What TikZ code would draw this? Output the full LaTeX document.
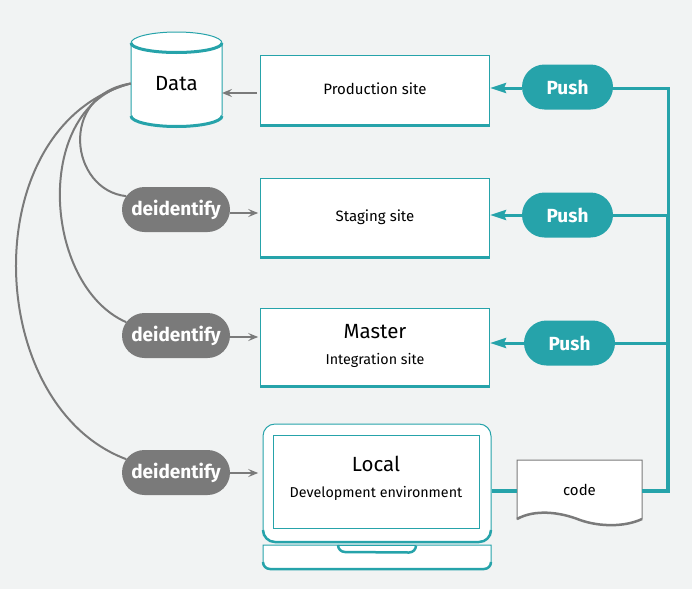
\documentclass[tikz,border=0pt]{standalone}
\usepackage{fontspec}
\setmainfont{Fira Sans}
\usetikzlibrary{arrows.meta,positioning,shapes.misc}
\definecolor{tealline}{HTML}{26A3AA}
\definecolor{greyline}{HTML}{7A7A7A}
\definecolor{pagebg}{HTML}{F1F3F3}
\newcommand{\bigtext}[1]{{\fontsize{20.5}{22}\selectfont #1}}
\newcommand{\subtext}[1]{{\fontsize{14.3}{18}\selectfont #1}}

\begin{document}
\begin{tikzpicture}[
	x=1pt,y=-1pt,
	sitebox/.style={
		draw=tealline,
		fill=white,
		line width=1pt,
		align=center,
		minimum width=229pt,
		inner sep=0pt,
		font=\fontsize{15}{18}\selectfont
	},
	pill/.style={
		rounded rectangle,
		text=white,
		minimum height=45pt,
		inner sep=0pt,
		font=\fontsize{19}{20}\selectfont\bfseries
	},
	pushpill/.style={pill,fill=tealline,minimum width=91pt},
	deidpill/.style={pill,fill=greyline,minimum width=108pt},
	bar/.style={tealline,line width=3pt},
	pushline/.style={tealline,line width=3pt},
	pusharrow/.style={tealline,line width=3pt,-{Stealth[length=16pt,width=10pt,inset=2pt]}},
	greyarrow/.style={greyline,line width=2pt,-{Stealth[length=10pt,width=8pt,inset=4pt]}},
	datacurve/.style={greyline,line width=2pt}
	]
	
	\fill[pagebg] (0,0) rectangle (692,589);
	\useasboundingbox (0,0) rectangle (692,589);
	
	% Data cylinder
	\draw[tealline,fill=white,line width=1pt] (131,43) -- (131,115) arc[start angle=180,end angle=360,x radius=45.5pt,y radius=12pt] -- (222,43) arc[start angle=0,end angle=180,x radius=45.5pt,y radius=11pt] -- cycle;
	\draw[bar] (131,116) arc[start angle=180,end angle=360,x radius=45.5pt,y radius=10.5pt];
	\draw[bar] (131,43) arc[start angle=180,end angle=360,x radius=45.5pt,y radius=9.5pt];
	\node[minimum width=91pt,inner sep=0pt] (data) at (176.5,83.5) {\bigtext{Data}};
	
	% Site boxes
	\node[sitebox,minimum height=70pt] (prod) at (375,90) {\raisebox{3pt}{Production site}};
	\node[sitebox,minimum height=78pt] (stag) at (375,217.5) {Staging site};
	\node[sitebox,minimum height=78pt] (mast) at (375,347) {\bigtext{Master}\\[8pt]\subtext{Integration site}\rule[-6pt]{0pt}{0pt}};
	\draw[bar] (prod.south west) -- (prod.south east);
	\draw[bar] (stag.south west) -- (stag.south east);
	\draw[bar] (mast.south west) -- (mast.south east);
	
	% Laptop
	\node[draw=tealline,fill=white,line width=1pt,rounded corners=12pt,minimum width=228pt,minimum height=118pt] (local) at (377,483) {};
	\draw[bar,line width=2.5pt] (263,530) arc[start angle=180,end angle=270,radius=12pt] -- (479,542) arc[start angle=270,end angle=360,radius=12pt];
	\node[sitebox,minimum width=206pt,minimum height=93pt] (screen) at (376,481.5) {\bigtext{Local}\\[8pt]\subtext{Development environment}\rule[-10pt]{0pt}{0pt}};
	\draw[tealline,fill=white,line width=1pt] (263,545) -- (263,562) arc[start angle=180,end angle=270,radius=7pt] -- (484,569) arc[start angle=270,end angle=360,radius=7pt] -- (491,545) -- cycle;
	\draw[bar,line width=2.5pt] (263,562) arc[start angle=180,end angle=270,radius=7pt] -- (484,569) arc[start angle=270,end angle=360,radius=7pt];
	\draw[tealline,line width=1pt] (337,545) -- (416,545);
	\draw[bar,line width=2.5pt] (338,545) arc[start angle=180,end angle=270,radius=7pt] -- (409,552.5) arc[start angle=270,end angle=360,radius=7pt];
	
	% Code sheet
	\draw[greyline,fill=white,line width=1pt] (517,460) -- (642,460) -- (642,519) .. controls (625,527) and (600,527) .. (580,520) .. controls (560,512) and (535,509) .. (517,519) -- cycle;
	\draw[greyline,line width=2.5pt] (642,519) .. controls (625,527) and (600,527) .. (580,520) .. controls (560,512) and (535,509) .. (517,519);
	\node[minimum width=125pt,minimum height=62pt,inner sep=0pt,font=\fontsize{15}{18}\selectfont] (code) at (579.5,491) {\raisebox{3pt}{code}};
	
	% Pills
	\node[pushpill] (push1) at (567.5,87) {Push};
	\node[pushpill] (push2) at (567.5,215) {Push};
	\node[pushpill] (push3) at (569.5,343) {Push};
	\node[deidpill] (deid1) at (176,209.5) {deidentify};
	\node[deidpill] (deid2) at (176,335.5) {deidentify};
	\node[deidpill] (deid3) at (176,472.5) {deidentify};
	
	% Trunk on the right
	\coordinate (j1) at (668,88);
	\coordinate (j2) at (668,215);
	\coordinate (j3) at (668,343);
	\coordinate (j4) at (668,491);
	\draw[pushline,line cap=rect] (push1.east |- j1) -- (j1) -- (j2);
	\draw[pushline] (push2.east |- j2) -- (j2);
	\draw[pushline] (push3.east |- j3) -- (j3);
	\draw[pushline,line width=4pt] (j2) -- (j4) -- (code.east |- j4);
	\draw[pushline,line width=4pt] (local.east |- j4) -- (code.west |- j4);
	
	% Arrows into the sites
	\draw[pusharrow] (push1.west |- j1) -- (prod.east |- j1);
	\draw[pusharrow] (push2.west |- j2) -- (stag.east |- j2);
	\draw[pusharrow] (push3.west |- j3) -- (mast.east |- j3);
	
	% Grey arrows
	\draw[greyarrow] ([yshift=-3pt]prod.west) ++(-3,0) -- ++(-35,0);
	\draw[greyarrow] (deid1.east) ++(0,3.5) -- ++(28,0);
	\draw[greyarrow] (deid2.east) ++(0,1.5) -- ++(28,0);
	\draw[greyarrow] (deid3.east) ++(0,0.5) -- ++(28,0);
	
	% Curves from the data
	\draw[datacurve] (data.west) .. controls (58,95) and (70,190) .. (deid1.165);
	\draw[datacurve] (data.west) .. controls (32,105) and (42,285) .. (deid2.165);
	\draw[datacurve] (data.west) .. controls (-25,125) and (-18,405) .. (deid3.165);
	
\end{tikzpicture}
\end{document}
